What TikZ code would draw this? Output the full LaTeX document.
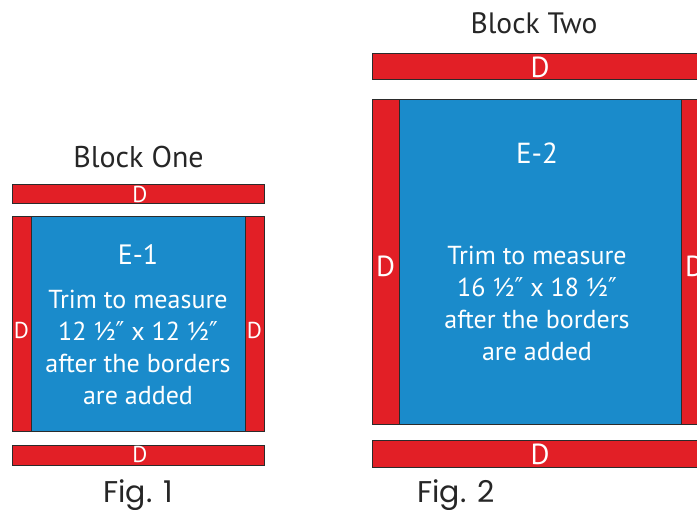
\documentclass[tikz,border=0pt]{standalone}
\usepackage{fontspec}
\setmainfont{PT Sans}
\newfontfamily\figfont{Poppins}
\newfontfamily\primefont{DejaVu Sans}
\newcommand{\inchmark}{{\primefont\scalebox{0.9}[1.0]{″}}}
\definecolor{qred}{HTML}{E21F26}
\definecolor{qblue}{HTML}{1A8BCB}
\definecolor{qedge}{HTML}{2B2B2B}
\begin{document}
\begin{tikzpicture}[x=1pt,y=-1pt,
  strip/.style={draw=qedge,line width=0.9pt,fill=qred},
  centre/.style={draw=qedge,line width=0.9pt,fill=qblue},
  dlab/.style={text=white,inner sep=0pt,anchor=base},
  body/.style={text=white,inner sep=0pt,align=center,anchor=base},
  title/.style={text=black!85,inner sep=0pt,anchor=base},
  figlab/.style={text=black!85,inner sep=0pt,anchor=base,font=\figfont\fontsize{30}{36}\selectfont}]
\useasboundingbox (0,0) rectangle (697,510);
\clip (0,0) rectangle (697,510);
% ---- Block One ----
\node[title,font=\fontsize{30}{34}\selectfont] (t1) at (138.5,168) {Block One};
\draw[strip] (12,184) rectangle (264,203);
\node[dlab,font=\fontsize{23}{28}\selectfont] (d1t) at (140,203) {D};
\draw[strip] (12,216) rectangle (31,431);
\draw[strip] (245,216) rectangle (264,431);
\draw[centre] (31,216) rectangle (245,431);
\node[dlab,font=\fontsize{23}{28}\selectfont] (d1l) at (21.5,339) {D};
\node[dlab,font=\fontsize{23}{28}\selectfont] (d1r) at (254.5,339) {D};
\node[body,font=\fontsize{28}{32}\selectfont] (e1) at (138,265) {E-1};
\node[body,font=\fontsize{26}{32}\selectfont] (m1) at (138,405)
  {Trim to measure\\12 ½\inchmark\ x 12 ½\inchmark\\after the borders\\are added};
\draw[strip] (12,445) rectangle (264,465);
\node[dlab,font=\fontsize{23}{28}\selectfont] (d1b) at (140,463) {D};
\node[figlab] (f1) at (138,503) {Fig. 1};
% ---- Block Two ----
\node[title,font=\fontsize{29.5}{34}\selectfont] (t2) at (534,34) {Block Two};
\draw[strip] (372,53) rectangle (709,79);
\node[dlab,font=\fontsize{29}{34}\selectfont] (d2t) at (540,78) {D};
\draw[strip] (372,99) rectangle (399,424);
\draw[strip] (681,99) rectangle (708,424);
\draw[centre] (399,99) rectangle (681,424);
\node[dlab,font=\fontsize{29}{34}\selectfont] (d2l) at (385.5,277) {D};
\node[dlab,font=\fontsize{29}{34}\selectfont] (d2r) at (694.5,277) {D};
\node[body,font=\fontsize{29}{34}\selectfont] (e2) at (537,164) {E-2};
\node[body,font=\fontsize{26}{32}\selectfont] (m2) at (537,361)
  {Trim to measure\\16 ½\inchmark\ x 18 ½\inchmark\\after the borders\\are added};
\draw[strip] (372,440) rectangle (709,467);
\node[dlab,font=\fontsize{29}{34}\selectfont] (d2b) at (540,465) {D};
\node[figlab] (f2) at (456,503) {Fig. 2};
\end{tikzpicture}
\end{document}
